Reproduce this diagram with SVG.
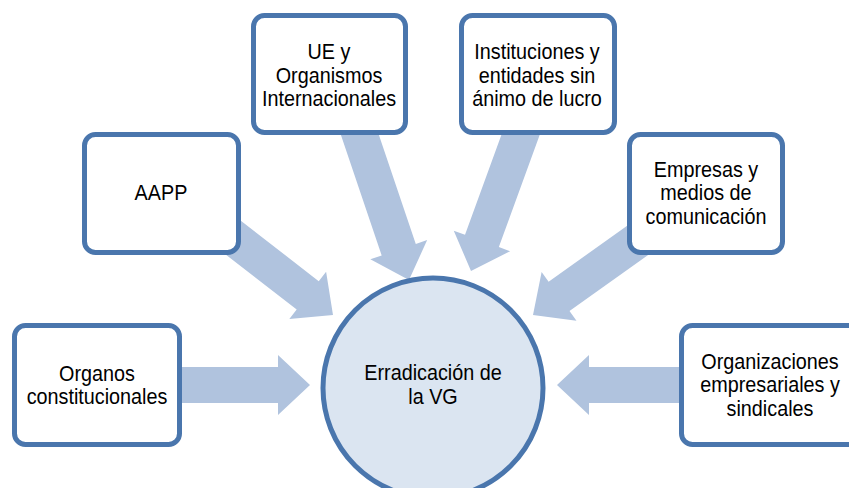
<svg xmlns="http://www.w3.org/2000/svg" xmlns:xlink="http://www.w3.org/1999/xlink" width="849" height="488" viewBox="0 0 849 488">
<style>
.box{fill:#fff;stroke:#4a76ad;stroke-width:5}
.hub{fill:#dbe5f1;stroke:#4a76ad;stroke-width:5}
.arr{fill:#b0c3de}
text{font-family:"Liberation Sans",Arial,sans-serif;font-size:22px;fill:#000;text-anchor:middle}
</style>
<defs>
<path id="arrow" d="M-200,-18 H-32 V-30 L0,0 L-32,30 V18 H-200 Z"/>
</defs>
<rect width="849" height="488" fill="#fff"/>
<g id="connectors" class="arr">
<use xlink:href="#arrow" href="#arrow" transform="translate(310,385)"/>
<use xlink:href="#arrow" href="#arrow" transform="translate(557,385) rotate(180)"/>
<use xlink:href="#arrow" href="#arrow" transform="translate(333,315) rotate(37.8)"/>
<use xlink:href="#arrow" href="#arrow" transform="translate(409,280) rotate(71.3)"/>
<use xlink:href="#arrow" href="#arrow" transform="translate(471,271) rotate(110)"/>
<use xlink:href="#arrow" href="#arrow" transform="translate(533,315) rotate(144.5)"/>
</g>
<g id="hub">
<circle class="hub" cx="433" cy="388" r="110"/>
<g transform="translate(433,0) scale(0.9,1)">
<text x="0" y="380">Erradicación de</text>
<text x="0" y="404">la VG</text>
</g>
</g>
<g id="organos">
<rect class="box" x="14.5" y="325.5" width="165" height="119" rx="11"/>
<g transform="translate(97,0) scale(0.9,1)">
<text x="0" y="381">Organos</text>
<text x="0" y="404">constitucionales</text>
</g>
</g>
<g id="aapp">
<rect class="box" x="84.5" y="134.5" width="154" height="118" rx="11"/>
<g transform="translate(161,0) scale(0.9,1)">
<text x="0" y="200">AAPP</text>
</g>
</g>
<g id="ue">
<rect class="box" x="253.5" y="15.5" width="152" height="117" rx="11"/>
<g transform="translate(329,0) scale(0.9,1)">
<text x="0" y="59">UE y</text>
<text x="0" y="83">Organismos</text>
<text x="0" y="106">Internacionales</text>
</g>
</g>
<g id="instituciones">
<rect class="box" x="461.5" y="15.5" width="153" height="117" rx="11"/>
<g transform="translate(537,0) scale(0.9,1)">
<text x="0" y="59">Instituciones y</text>
<text x="0" y="83">entidades sin</text>
<text x="0" y="106">ánimo de lucro</text>
</g>
</g>
<g id="empresas">
<rect class="box" x="629.5" y="134.5" width="153" height="118" rx="11"/>
<g transform="translate(706,0) scale(0.9,1)">
<text x="0" y="177">Empresas y</text>
<text x="0" y="200">medios de</text>
<text x="0" y="224">comunicación</text>
</g>
</g>
<g id="organizaciones">
<rect class="box" x="681.5" y="325.5" width="180" height="119" rx="11"/>
<g transform="translate(770,0) scale(0.9,1)">
<text x="0" y="369">Organizaciones</text>
<text x="0" y="392">empresariales y</text>
<text x="0" y="416">sindicales</text>
</g>
</g>
</svg>
